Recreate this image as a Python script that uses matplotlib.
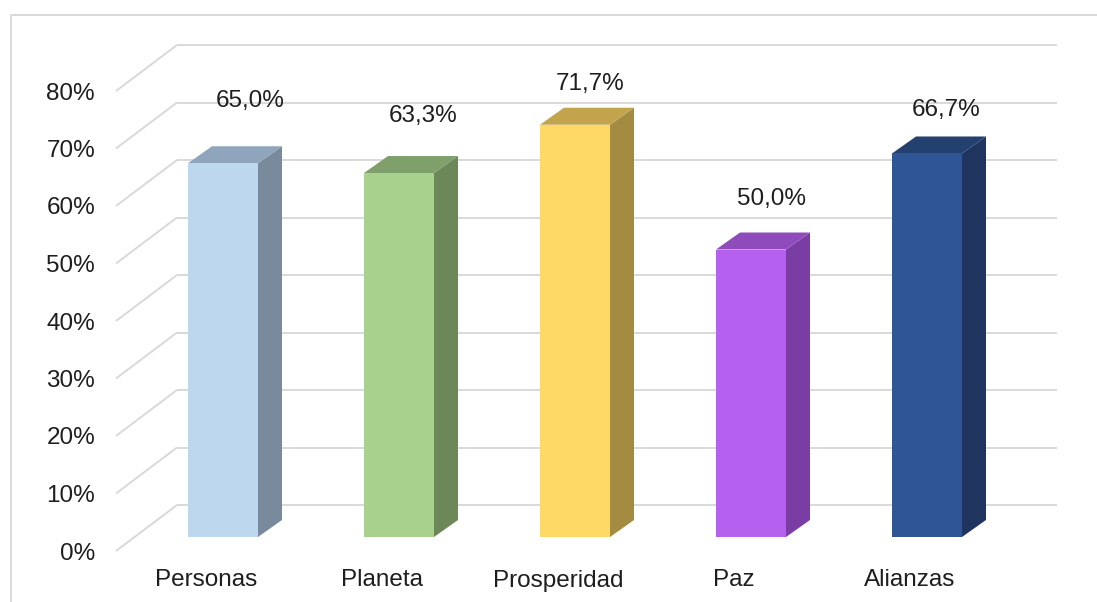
import matplotlib
matplotlib.use("Agg")
import matplotlib.pyplot as plt
from matplotlib.patches import Polygon, Rectangle
from matplotlib.lines import Line2D

# Share of goals reached per SDG pillar
categories = ["Personas", "Planeta", "Prosperidad", "Paz", "Alianzas"]
values = [65.0, 63.3, 71.7, 50.0, 66.7]
tick_values = [0, 10, 20, 30, 40, 50, 60, 70, 80]
tick_labels = ["0%", "10%", "20%", "30%", "40%", "50%", "60%", "70%", "80%"]

# Face colours for each column: front, top, side
front_colors = ["#BDD7EE", "#A9D18E", "#FFD966", "#B660F0", "#2F5597"]
top_colors = ["#8EA5BB", "#7F9F6B", "#C2A44D", "#8F4BBB", "#24406F"]
side_colors = ["#788A9B", "#6C8858", "#A38B42", "#7A3DA3", "#1F355F"]

# Label nudges in pixels (dx, dy) above each column's back edge
label_nudge = [(3, 48), (0, 43), (-9, 26), (-4, 36), (-5, 29)]

W, H = 1097, 602
PX_X = 176.0   # pixels per category step
PX_Y = 5.75    # pixels per percentage point
ORIGIN = (223.0, 537.0)  # pixel of category 0 at 0 % on the column front plane

fig = plt.figure(figsize=(W / 100, H / 100), dpi=100)
fig.patch.set_facecolor("white")
ax = fig.add_axes([0, 0, 1, 1])
ax.set_xlim(-ORIGIN[0] / PX_X, (W - ORIGIN[0]) / PX_X)
ax.set_ylim(-(H - ORIGIN[1]) / PX_Y, ORIGIN[1] / PX_Y)
ax.axis("off")


def px(dx, dy):
    """Pixel offset (right, up) expressed in data units."""
    return dx / PX_X, dy / PX_Y


BAR_D = px(24, 17)      # column depth
WALL_D = px(42, 32)     # back wall
FRONT_D = px(-19, -14)  # front edge of floor / side wall

GRID = "#D9D9D9"
TEXT = "#1E1E1E"
FONT = ["Liberation Sans", "DejaVu Sans"]
FS = 17.5

x_left, x_right = -0.5, len(categories) - 0.5

# Back wall gridlines and side wall diagonals
for v in tick_values:
    ax.plot([x_left + WALL_D[0], x_right + WALL_D[0]],
            [v + WALL_D[1], v + WALL_D[1]],
            color=GRID, lw=1.4, zorder=1, solid_capstyle="butt")
    ax.plot([x_left + FRONT_D[0], x_left + WALL_D[0]],
            [v + FRONT_D[1], v + WALL_D[1]],
            color=GRID, lw=1.4, zorder=1, solid_capstyle="butt")

# Value axis labels
for v, lab in zip(tick_values, tick_labels):
    ax.text(x_left + FRONT_D[0] - 21 / PX_X, v + FRONT_D[1], lab,
            ha="right", va="center_baseline", fontsize=FS, color=TEXT,
            family=FONT)

# Columns
bw = 70 / PX_X
for i, (cat, v) in enumerate(zip(categories, values)):
    l, r = i - bw / 2, i + bw / 2
    dx, dy = BAR_D
    side = Polygon([(r, 0), (r + dx, dy), (r + dx, v + dy), (r, v)],
                   closed=True, facecolor=side_colors[i], edgecolor="none",
                   zorder=3)
    top = Polygon([(l, v), (r, v), (r + dx, v + dy), (l + dx, v + dy)],
                  closed=True, facecolor=top_colors[i], edgecolor="none",
                  zorder=3)
    front = Rectangle((l, 0), bw, v, facecolor=front_colors[i],
                      edgecolor="none", zorder=4)
    for p in (side, top, front):
        ax.add_patch(p)

    ndx, ndy = label_nudge[i]
    ax.text(i + dx + ndx / PX_X, v + dy + ndy / PX_Y,
            f"{v:.1f}%".replace(".", ","),
            ha="center", va="center_baseline", fontsize=FS, color=TEXT,
            family=FONT, zorder=5)

    ax.text(i + FRONT_D[0] + 2 / PX_X, FRONT_D[1] - 27 / PX_Y, cat,
            ha="center", va="center_baseline", fontsize=FS, color=TEXT,
            family=FONT)

# Chart area border (left and top edges visible)
bx, by = 11 / W, 1 - 15 / H
fig.add_artist(Line2D([bx, bx, 1], [0, by, by], transform=fig.transFigure,
                      color=GRID, lw=1.4))

fig.savefig("out.png", dpi=100, facecolor="white")
